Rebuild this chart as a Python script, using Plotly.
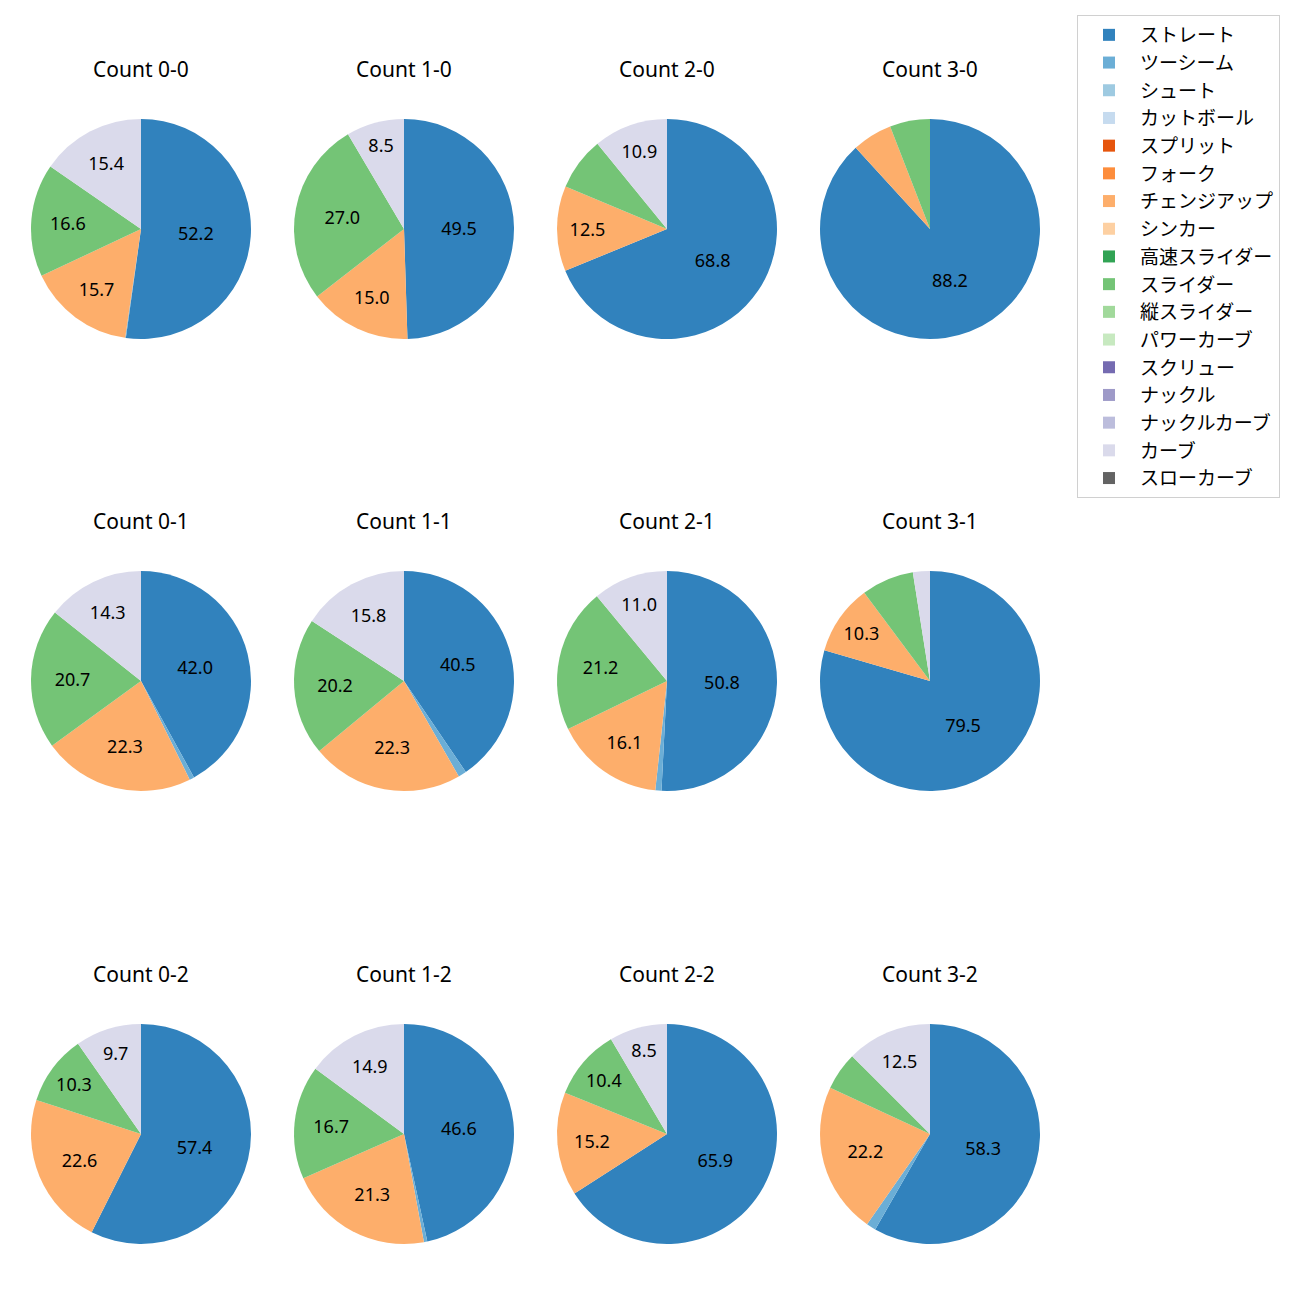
import plotly.graph_objects as go

counts = ["0-0", "1-0", "2-0", "3-0",
          "0-1", "1-1", "2-1", "3-1",
          "0-2", "1-2", "2-2", "3-2"]

pitch_types = ["ストレート", "ツーシーム", "シュート", "カットボール", "スプリット", "フォーク",
               "チェンジアップ", "シンカー", "高速スライダー", "スライダー", "縦スライダー",
               "パワーカーブ", "スクリュー", "ナックル", "ナックルカーブ", "カーブ", "スローカーブ"]

colors = ["#3182bd", "#6baed6", "#9ecae1", "#c6dbef", "#e6550d", "#fd8d3c",
          "#fdae6b", "#fdd0a2", "#31a354", "#74c476", "#a1d99b", "#c7e9c0",
          "#756bb1", "#9e9ac8", "#bcbddc", "#dadaeb", "#636363"]

# percentage per pitch type, in the order of `counts`
straight = [52.2, 49.5, 68.8, 88.2, 42.0, 40.5, 50.8, 79.5, 57.4, 46.6, 65.9, 58.3]
two_seam = [0.1, 0.0, 0.0, 0.0, 0.7, 1.2, 0.9, 0.0, 0.0, 0.5, 0.0, 1.4]
changeup = [15.7, 15.0, 12.5, 5.9, 22.3, 22.3, 16.1, 10.3, 22.6, 21.3, 15.2, 22.2]
slider = [16.6, 27.0, 7.8, 5.9, 20.7, 20.2, 21.2, 7.7, 10.3, 16.7, 10.4, 5.6]
curve = [15.4, 8.5, 10.9, 0.0, 14.3, 15.8, 11.0, 2.5, 9.7, 14.9, 8.5, 12.5]
zeros = [0.0] * 12

series = {
    "ストレート": straight,
    "ツーシーム": two_seam,
    "チェンジアップ": changeup,
    "スライダー": slider,
    "カーブ": curve,
}

FONT = "Noto Sans, Noto Sans CJK JP, sans-serif"
W = H = 1300
OFF = 8  # page body margin
col_cx = [141, 404, 667, 930]
row_cy = [229, 681, 1134]
R = 110

fig = go.Figure()
annotations = []
for i, cnt in enumerate(counts):
    r, c = divmod(i, 4)
    vals = [series.get(p, zeros)[i] for p in pitch_types]
    texts = [f"{v:.1f}" if v >= 8 else "" for v in vals]
    cx, cy = col_cx[c] - OFF, row_cy[r] - OFF
    fig.add_trace(go.Pie(
        labels=pitch_types,
        values=vals,
        text=texts,
        textinfo="text",
        textposition="inside",
        insidetextorientation="horizontal",
        textfont=dict(family=FONT, size=18, color="black"),
        marker=dict(colors=colors, line=dict(width=0)),
        sort=False,
        direction="clockwise",
        rotation=0,
        domain=dict(x=[(cx - R) / W, (cx + R) / W],
                    y=[1 - (cy + R) / H, 1 - (cy - R) / H]),
        showlegend=(i == 0),
        hoverinfo="label+percent",
    ))
    annotations.append(dict(
        text=f"Count {cnt}", x=cx / W, y=1 - (cy - 160) / H,
        xref="paper", yref="paper", showarrow=False,
        font=dict(family=FONT, size=21, color="black"),
        xanchor="center", yanchor="middle",
    ))

fig.update_layout(
    width=W, height=H,
    margin=dict(l=0, r=0, t=0, b=0),
    paper_bgcolor="white",
    plot_bgcolor="white",
    annotations=annotations,
    legend=dict(
        x=(1077 - OFF) / W, y=1 - (15 - OFF) / H, xanchor="left", yanchor="top",
        bgcolor="white", bordercolor="#d0d0d0", borderwidth=1,
        font=dict(family=FONT, size=19, color="black"),
        traceorder="normal",
        itemwidth=52,
    ),
    font=dict(family=FONT),
)

fig.write_html("out.html")
